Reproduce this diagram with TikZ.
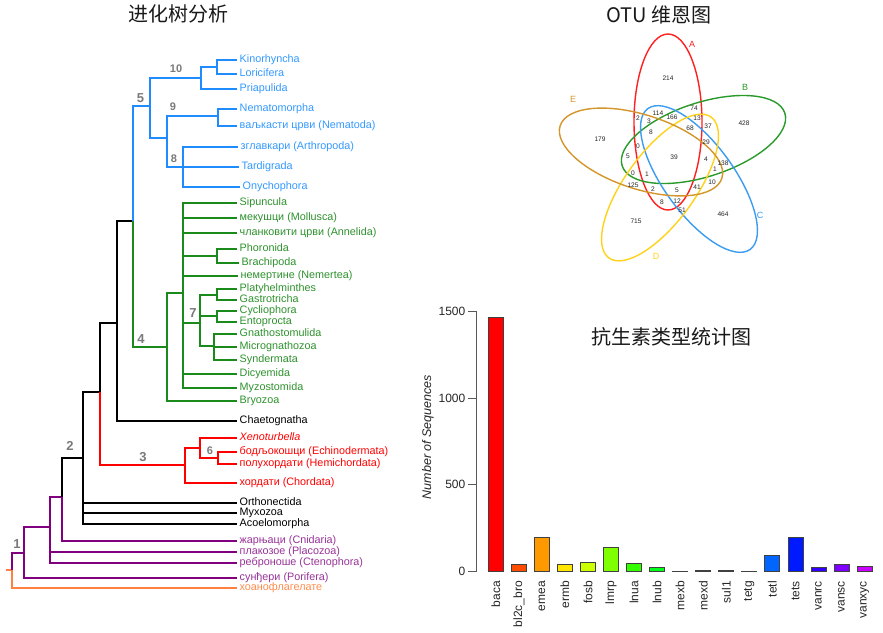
\documentclass[tikz,border=0pt]{standalone}
\usepackage{fontspec}
\setmainfont{Liberation Sans}
\newfontfamily\cjk{Noto Sans CJK SC}
\definecolor{tblue}{HTML}{1E8CFF}
\definecolor{lblue}{HTML}{3399FF}
\definecolor{tgreen}{HTML}{1A8A1A}
\definecolor{lgreen}{HTML}{2E922E}
\definecolor{tred}{HTML}{FF0000}
\definecolor{tpurple}{HTML}{800080}
\definecolor{lpurple}{HTML}{993399}
\definecolor{torange}{HTML}{FF8040}
\definecolor{lorange}{HTML}{FF8C4D}
\definecolor{numgray}{HTML}{7A7A7A}
\definecolor{vred}{HTML}{FF2020}
\definecolor{vgreen}{HTML}{2A9A2A}
\definecolor{vblue}{HTML}{3C9CF0}
\definecolor{vyellow}{HTML}{FFD21A}
\definecolor{vorange}{HTML}{D4962A}
\definecolor{b0}{HTML}{FF0000}
\definecolor{b1}{HTML}{FF4D00}
\definecolor{b2}{HTML}{FF9900}
\definecolor{b3}{HTML}{FFE600}
\definecolor{b4}{HTML}{CCFF00}
\definecolor{b5}{HTML}{80FF00}
\definecolor{b6}{HTML}{33FF00}
\definecolor{b7}{HTML}{00FF1A}
\definecolor{b8}{HTML}{00FF66}
\definecolor{b9}{HTML}{00FFB3}
\definecolor{b10}{HTML}{00FFFF}
\definecolor{b11}{HTML}{00B3FF}
\definecolor{b12}{HTML}{0066FF}
\definecolor{b13}{HTML}{001AFF}
\definecolor{b14}{HTML}{3300FF}
\definecolor{b15}{HTML}{8000FF}
\definecolor{b16}{HTML}{CC00FF}
\begin{document}
\begin{tikzpicture}[x=1pt,y=-1pt,
  title/.style={font=\cjk\fontsize{20}{20}\selectfont, text=black!90, inner sep=0},
  leaf/.style={anchor=west, inner sep=2.5pt, font=\fontsize{10.8}{12}\selectfont, text height=7.8pt, text depth=2.2pt},
  tb/.style={line width=2.9pt},
  tnum/.style={text=numgray, font=\bfseries\fontsize{13}{13}\selectfont, inner sep=0},
  tnums/.style={text=numgray, font=\bfseries\fontsize{11}{11}\selectfont, inner sep=0},
  venn/.style={line width=1.4pt},
  vnum/.style={font=\fontsize{6.6}{7}\selectfont, text=black!85, inner sep=0},
  vlab/.style={font=\fontsize{9}{9}\selectfont, inner sep=0},
  bar/.style={draw=black!75, line width=0.9pt},
  axisline/.style={draw=black!65, line width=1pt},
  ticklab/.style={anchor=east, font=\fontsize{12}{12}\selectfont, text=black!85, inner sep=0},
  xlab/.style={anchor=east, rotate=90, font=\fontsize{12}{12}\selectfont, text=black!85, inner sep=0}
]
\useasboundingbox (0,0) rectangle (883,632);
\fill[white] (0,0) rectangle (883,632);

% ---------------- titles
\node[title] (t1) at (178,14) {进化树分析};
\node[title] (t2) at (659,14.5) {OTU 维恩图};
\node[title] (t3) at (671.5,337) {抗生素类型统计图};

% ---------------- tree: internal nodes
\coordinate (r0) at (6,570);
\coordinate (n1) at (12,570);
\coordinate (n1a) at (24,553);
\coordinate (n2a) at (50,527);
\coordinate (n2b) at (62,497);
\coordinate (n2) at (83,458);
\coordinate (n3a) at (100,392);
\coordinate (n3b) at (117,323);
\coordinate (n4a) at (133,221);
\coordinate (n5) at (150,106);
\coordinate (n10) at (201,78);
\coordinate (nKL) at (217,67);
\coordinate (n89) at (167,138);
\coordinate (n9) at (218,116);
\coordinate (n8) at (183,167);
\coordinate (n4) at (167,347);
\coordinate (n4b) at (183,293);
\coordinate (nPB) at (217,256);
\coordinate (n7) at (200,323);
\coordinate (nPG) at (217,295);
\coordinate (nCE) at (217,316);
\coordinate (nGMS) at (214,346);
\coordinate (n3) at (185,465);
\coordinate (n6a) at (200,448);
\coordinate (n6) at (218,458);

% ---------------- tree: leaves
\node[leaf, text=lblue] (kin) at (237,60) {Kinorhyncha};
\node[leaf, text=lblue] (lor) at (237,74) {Loricifera};
\node[leaf, text=lblue] (pri) at (237,89) {Priapulida};
\node[leaf, text=lblue] (nem) at (237,109) {Nematomorpha};
\node[leaf, text=lblue] (nmt) at (237,126) {ваљкасти црви (Nematoda)};
\node[leaf, text=lblue, xshift=1pt] (art) at (237,147) {зглавкари (Arthropoda)};
\node[leaf, text=lblue, xshift=2pt] (tar) at (237,167) {Tardigrada};
\node[leaf, text=lblue, xshift=3pt] (ony) at (237,187) {Onychophora};
\node[leaf, text=lgreen] (sip) at (237,203) {Sipuncula};
\node[leaf, text=lgreen] (mol) at (237,218) {мекушци (Mollusca)};
\node[leaf, text=lgreen] (ann) at (237,233) {чланковити црви (Annelida)};
\node[leaf, text=lgreen] (pho) at (237,249) {Phoronida};
\node[leaf, text=lgreen, xshift=2pt] (bra) at (237,263) {Brachipoda};
\node[leaf, text=lgreen, xshift=1pt] (nmr) at (237,276) {немертине (Nemertea)};
\node[leaf, text=lgreen] (pla) at (237,289) {Platyhelminthes};
\node[leaf, text=lgreen] (gas) at (237,300) {Gastrotricha};
\node[leaf, text=lgreen] (cyc) at (237,311) {Cycliophora};
\node[leaf, text=lgreen] (ent) at (237,322) {Entoprocta};
\node[leaf, text=lgreen] (gna) at (237,334) {Gnathostomulida};
\node[leaf, text=lgreen] (mic) at (237,347) {Micrognathozoa};
\node[leaf, text=lgreen] (syn) at (237,360) {Syndermata};
\node[leaf, text=lgreen] (dic) at (237,374) {Dicyemida};
\node[leaf, text=lgreen] (myz) at (237,388) {Myzostomida};
\node[leaf, text=lgreen] (bry) at (237,401) {Bryozoa};
\node[leaf, text=black] (cha) at (237,421) {Chaetognatha};
\node[leaf, text=tred] (xen) at (237,438) {\itshape Xenoturbella};
\node[leaf, text=tred] (ech) at (237,452) {бодљокошци (Echinodermata)};
\node[leaf, text=tred] (hem) at (237,464) {полухордати (Hemichordata)};
\node[leaf, text=tred] (cho) at (237,483) {хордати (Chordata)};
\node[leaf, text=black] (ort) at (237,503) {Orthonectida};
\node[leaf, text=black] (myx) at (237,513) {Myxozoa};
\node[leaf, text=black] (aco) at (237,524) {Acoelomorpha};
\node[leaf, text=lpurple] (cni) at (237,541) {жарњаци (Cnidaria)};
\node[leaf, text=lpurple] (plc) at (237,552) {плакозое (Placozoa)};
\node[leaf, text=lpurple] (cte) at (237,563) {реброноше (Ctenophora)};
\node[leaf, text=lpurple] (por) at (237,578) {сунђери (Porifera)};
\node[leaf, text=lorange] (coa) at (237,588) {хоанофлагелате};

% ---------------- tree: connectors
\draw[tb, torange] (r0) -- (n1);
\draw[tb, torange] (n1) |- (coa.west);
\foreach \a/\b in {n1/n1a, n1a/n2a, n2a/n2b}
  \draw[tb, tpurple] (\a) |- (\b);
\foreach \a/\b in {n1a/por, n2a/plc, n2a/cte, n2b/cni}
  \draw[tb, tpurple] (\a) |- (\b.west);
\foreach \a/\b in {n2b/n2, n2/n3a, n3a/n3b, n3b/n4a}
  \draw[tb, black] (\a) |- (\b);
\foreach \a/\b in {n2/ort, n2/myx, n2/aco, n3b/cha}
  \draw[tb, black] (\a) |- (\b.west);
\foreach \a/\b in {n3a/n3, n3/n6a, n6a/n6}
  \draw[tb, tred] (\a) |- (\b);
\foreach \a/\b in {n3/cho, n6a/xen, n6/ech, n6/hem}
  \draw[tb, tred] (\a) |- (\b.west);
\foreach \a/\b in {n4a/n5, n5/n10, n10/nKL, n5/n89, n89/n9, n89/n8}
  \draw[tb, tblue] (\a) |- (\b);
\foreach \a/\b in {nKL/kin, nKL/lor, n10/pri, n9/nem, n9/nmt, n8/art, n8/tar, n8/ony}
  \draw[tb, tblue] (\a) |- (\b.west);
\foreach \a/\b in {n4a/n4, n4/n4b, n4b/nPB, n4b/n7, n7/nPG, n7/nCE, n7/nGMS}
  \draw[tb, tgreen] (\a) |- (\b);
\foreach \a/\b in {n4/bry, n4b/sip, n4b/mol, n4b/ann, nPB/pho, nPB/bra, n4b/nmr, nPG/pla, nPG/gas, nCE/cyc, nCE/ent, nGMS/gna, nGMS/mic, nGMS/syn, n4b/dic, n4b/myz}
  \draw[tb, tgreen] (\a) |- (\b.west);

% ---------------- tree: clade numbers
\node[tnums] (c10) at (176,69) {10};
\node[tnums] (c9) at (173,107) {9};
\node[tnums] (c8) at (174,159) {8};
\node[tnum] (c5) at (140.5,98) {5};
\node[tnum] (c4) at (141,339) {4};
\node[tnum] (c7) at (193,313) {7};
\node[tnum] (c3) at (143,457) {3};
\node[tnums] (c6) at (210,451) {6};
\node[tnum] (c2) at (70,446) {2};
\node[tnum] (c1) at (17,544) {1};

% ---------------- Venn diagram
\draw[venn, vred] [rotate around={90:(668,122)}] (668,122) ellipse [x radius=88, y radius=34];
\draw[venn, vgreen] [rotate around={18:(703.5,139.5)}] (703.5,139.5) ellipse [x radius=85.5, y radius=37];
\draw[venn, vblue] [rotate around={126:(699,179)}] (699,179) ellipse [x radius=87, y radius=35];
\draw[venn, vyellow] [rotate around={54:(660,187.5)}] (660,187.5) ellipse [x radius=87, y radius=35];
\draw[venn, vorange] [rotate around={162:(641,152)}] (641,152) ellipse [x radius=85, y radius=37];
\node[vlab, text=vred] (vA) at (692,44) {A};
\node[vlab, text=vgreen] (vB) at (745,87) {B};
\node[vlab, text=vblue] (vC) at (760,215) {C};
\node[vlab, text=vyellow] (vD) at (656,256) {D};
\node[vlab, text=vorange] (vE) at (573,99) {E};
\foreach \x/\y/\t [count=\k] in {668/78/214, 694/108/74, 658/113/114, 672/117/166, 638/118/2, 649/121/3,
  697/118/13, 708/126/37, 744/123/428, 690/128/68, 651/132/8, 600/139/179, 706/142/29, 638/146/0,
  628/156/5, 674/157/39, 706/159/4, 723/163/138, 715/169/1, 633/173/0, 647/174/1, 712/182/10,
  633/185/125, 653/189/2, 677/190/5, 697/187/41, 662/202/8, 677/201/12, 682/210/51, 636/221/715, 723/214/464}
  \node[vnum] (v\k) at (\x,\y) {\t};

% ---------------- bar chart
\draw[axisline] (476,311.2) -- (476,571.5);
\foreach \v/\y in {0/571.5, 500/484.7, 1000/398, 1500/311.2} {
  \draw[axisline] (468,\y) -- (476,\y);
  \node[ticklab] (tk\v) at (465.5,\y) {\v};
}
\node[rotate=90, font=\itshape\fontsize{12.5}{12.5}\selectfont, text=black!85, inner sep=0] (ytitle) at (428,437) {Number of Sequences};
\foreach \i/\lab/\v in {0/baca/1460, 1/bl2c\_bro/43, 2/emea/196, 3/ermb/43, 4/fosb/54, 5/lmrp/138,
  6/lnua/44, 7/lnub/21, 8/mexb/2, 9/mexd/5, 10/sul1/5, 11/tetg/2, 12/tetl/90, 13/tets/196,
  14/vanrc/25, 15/vansc/40, 16/vanxyc/31} {
  \draw[bar, fill=b\i] (488.3+23.05*\i,571.5) rectangle ++(15,-\v*0.1737);
  \node[xlab] (xl\i) at (495.8+23.05*\i,581) {\lab};
}
\end{tikzpicture}
\end{document}
